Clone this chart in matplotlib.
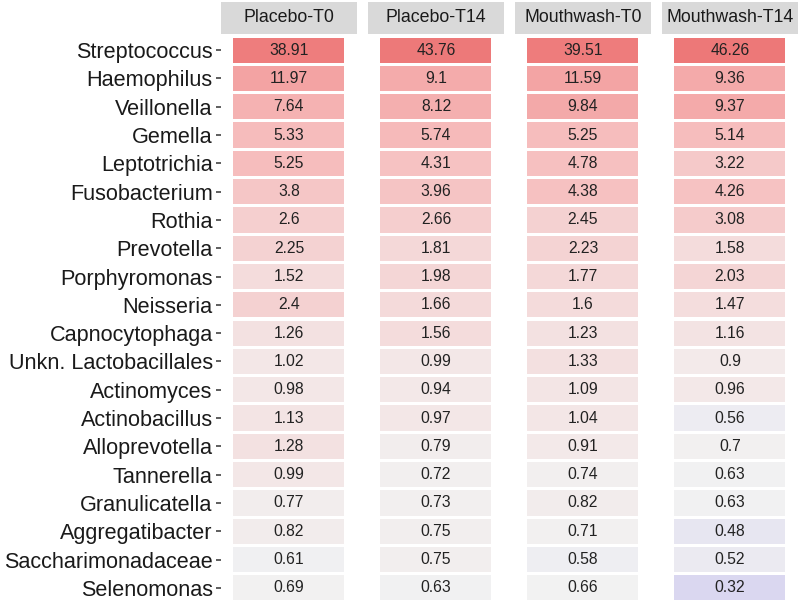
import numpy as np
import matplotlib.pyplot as plt
from matplotlib.colors import LinearSegmentedColormap, Normalize

plt.rcParams['font.family'] = ['Liberation Sans', 'DejaVu Sans']

genera = ['Streptococcus', 'Haemophilus', 'Veillonella', 'Gemella', 'Leptotrichia',
          'Fusobacterium', 'Rothia', 'Prevotella', 'Porphyromonas', 'Neisseria',
          'Capnocytophaga', 'Unkn. Lactobacillales', 'Actinomyces', 'Actinobacillus',
          'Alloprevotella', 'Tannerella', 'Granulicatella', 'Aggregatibacter',
          'Saccharimonadaceae', 'Selenomonas']

groups = ['Placebo-T0', 'Placebo-T14', 'Mouthwash-T0', 'Mouthwash-T14']

placebo_t0 = [38.91, 11.97, 7.64, 5.33, 5.25, 3.8, 2.6, 2.25, 1.52, 2.4,
              1.26, 1.02, 0.98, 1.13, 1.28, 0.99, 0.77, 0.82, 0.61, 0.69]
placebo_t14 = [43.76, 9.1, 8.12, 5.74, 4.31, 3.96, 2.66, 1.81, 1.98, 1.66,
               1.56, 0.99, 0.94, 0.97, 0.79, 0.72, 0.73, 0.75, 0.75, 0.63]
mouthwash_t0 = [39.51, 11.59, 9.84, 5.25, 4.78, 4.38, 2.45, 2.23, 1.77, 1.6,
                1.23, 1.33, 1.09, 1.04, 0.91, 0.74, 0.82, 0.71, 0.58, 0.66]
mouthwash_t14 = [46.26, 9.36, 9.37, 5.14, 3.22, 4.26, 3.08, 1.58, 2.03, 1.47,
                 1.16, 0.9, 0.96, 0.56, 0.7, 0.63, 0.63, 0.48, 0.52, 0.32]

series = [placebo_t0, placebo_t14, mouthwash_t0, mouthwash_t14]

# diverging scale on log values, neutral grey around 0.65
mid = 0.65
vmax = max(max(s) for s in series)
span = np.log(vmax) - np.log(mid)
norm = Normalize(vmin=np.log(mid) - span, vmax=np.log(mid) + span)
cmap = LinearSegmentedColormap.from_list(
    'rb', [(0.0, (101/255, 83/255, 230/255)),
           (0.5, (242/255, 242/255, 242/255)),
           (0.75, (246/255, 188/255, 188/255)),
           (1.0, (237/255, 120/255, 120/255))])

W, H = 800, 605
fig = plt.figure(figsize=(8, 6.05), dpi=100)

lefts = [221, 368, 515, 662]
pw = 136
ptop, pbot = 36, 602
strip_top, strip_bot = 2, 34

y = np.arange(len(genera))
for i, (name, vals) in enumerate(zip(groups, series)):
    ax = fig.add_axes([lefts[i] / W, 1 - pbot / H, pw / W, (pbot - ptop) / H])
    colors = cmap(norm(np.log(vals)))
    ax.barh(y, 0.816, left=0.09, height=0.89, color=colors, linewidth=0)
    for yi, v in zip(y, vals):
        ax.text(0.5, yi, f'{v:g}', ha='center', va='center', fontsize=11.3,
                color='#222222')
    ax.set_xlim(0, 1)
    ax.set_ylim(len(genera) - 0.5, -0.5)
    ax.set_xticks([])
    for sp in ax.spines.values():
        sp.set_visible(False)
    if i == 0:
        ax.set_yticks(y)
        ax.set_yticklabels(genera, fontsize=15.6, color='#1a1a1a')
        ax.tick_params(axis='y', length=3.5, width=1.1, color='#333333', pad=2.5)
    else:
        ax.set_yticks([])

    sax = fig.add_axes([lefts[i] / W, 1 - strip_bot / H, pw / W,
                        (strip_bot - strip_top) / H])
    sax.set_facecolor('#d9d9d9')
    sax.set_xticks([])
    sax.set_yticks([])
    for sp in sax.spines.values():
        sp.set_visible(False)
    sax.text(0.5, 0.5, name, ha='center', va='center', fontsize=12.8,
             color='#1a1a1a', transform=sax.transAxes)

fig.savefig('out.png', dpi=100)
